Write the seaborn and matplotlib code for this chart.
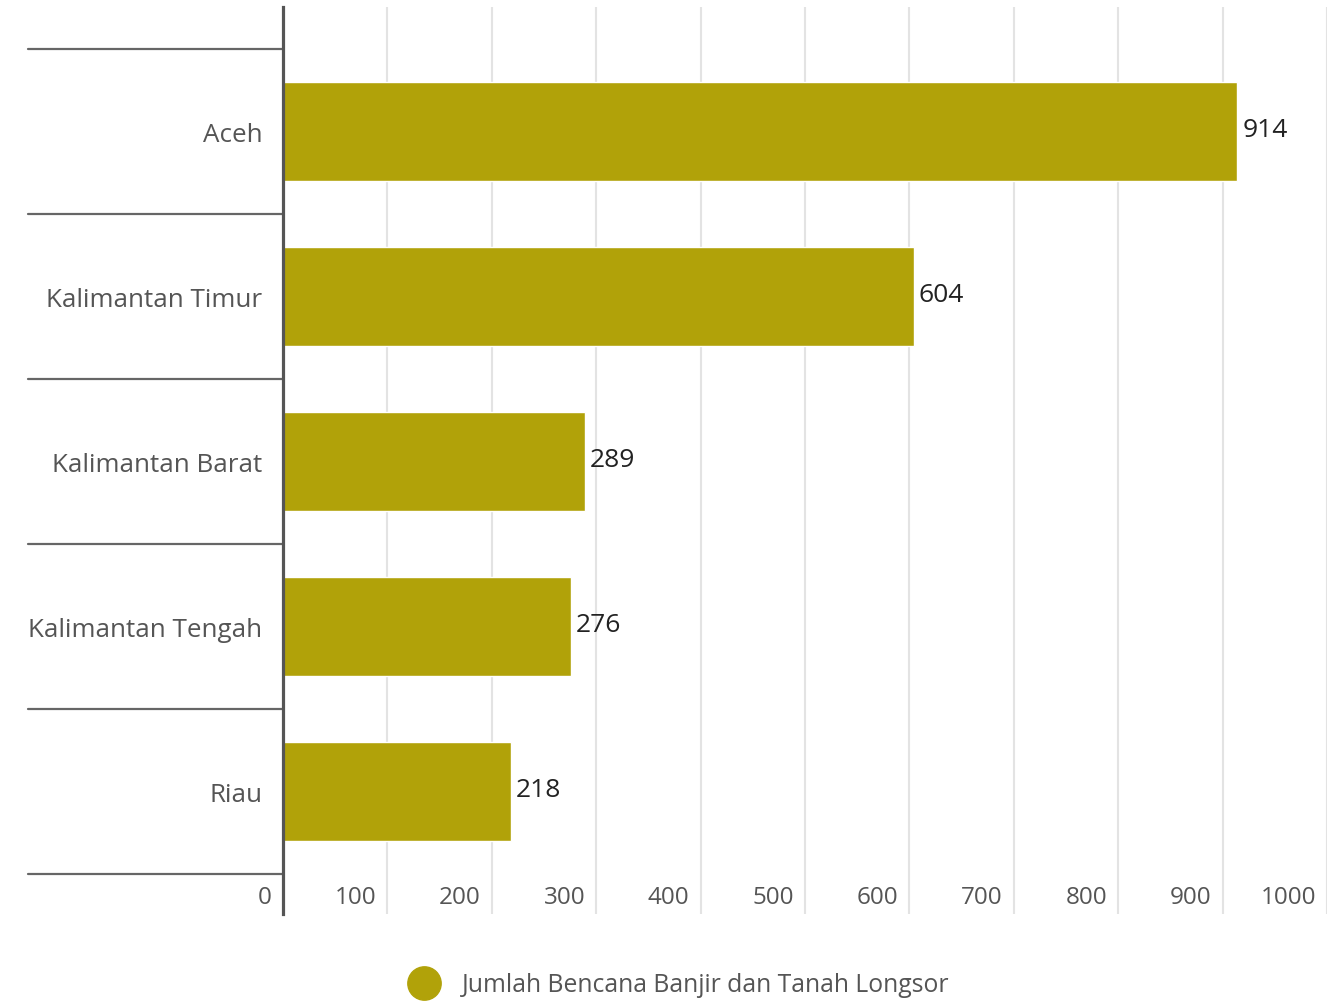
import matplotlib
matplotlib.use("Agg")
import matplotlib.pyplot as plt
import matplotlib.transforms as mtransforms
from matplotlib.lines import Line2D
import seaborn as sns
import pandas as pd

categories = ["Aceh", "Kalimantan Timur", "Kalimantan Barat", "Kalimantan Tengah", "Riau"]
values = [914, 604, 289, 276, 218]
x_ticks = [0, 100, 200, 300, 400, 500, 600, 700, 800, 900, 1000]
series_name = "Jumlah Bencana Banjir dan Tanah Longsor"

BAR = "#b1a209"
TXT = "#555555"

sns.set_theme(style="white")
plt.rcParams["font.family"] = ["Open Sans", "DejaVu Sans"]

df = pd.DataFrame({"Provinsi": categories, "Jumlah": values})

fig = plt.figure(figsize=(13.27, 10.03), dpi=100)
ax = fig.add_axes([283/1327, 1 - 915/1003, 1044/1327, 907/1003])

sns.barplot(data=df, y="Provinsi", x="Jumlah", orient="h", color=BAR,
            width=0.6, saturation=1, ax=ax, zorder=3)

ax.set_xlim(0, 1000)
ax.set_ylim(4.5 + 40/165, -0.5 - 42/165)
ax.set_xlabel("")
ax.set_ylabel("")

# gridlines
for t in x_ticks[1:]:
    ax.axvline(t, color="#e3e3e3", lw=1.5, zorder=1)

for s in ["top", "right", "bottom"]:
    ax.spines[s].set_visible(False)
ax.spines["left"].set_color("#555555")
ax.spines["left"].set_linewidth(2.3)
ax.spines["left"].set_zorder(5)

# x tick labels inside axes bottom, to the left of each gridline
ax.set_xticks([])
blend = mtransforms.blended_transform_factory(ax.transData, ax.transAxes)
for t in x_ticks:
    off = mtransforms.offset_copy(blend, fig=fig, x=-11, y=0, units="dots")
    ax.text(t, 17/907, str(t), transform=off, ha="right", va="center",
            fontsize=17.5, color=TXT)

# y tick labels
ax.tick_params(axis="y", length=0, pad=15, labelsize=18.7, labelcolor=TXT)

# category separator lines on the left
blend_y = mtransforms.blended_transform_factory(ax.transAxes, ax.transData)
for b in [i - 0.5 for i in range(len(categories) + 1)]:
    ax.add_line(Line2D([-255/1044, 0], [b, b], transform=blend_y, color="#666666",
                       lw=1.6, clip_on=False, zorder=4))

# value labels
for i, v in enumerate(values):
    ax.annotate(str(v), xy=(v, i), xytext=(5, 2), textcoords="offset pixels",
                ha="left", va="center", fontsize=19, color="#222222", zorder=6)

handle = Line2D([], [], marker="o", linestyle="", color=BAR, markersize=24)
fig.legend([handle], [series_name], loc="center", bbox_to_anchor=(0.508, 0.017),
           frameon=False, fontsize=17.8, labelcolor=TXT, handletextpad=0.55,
           borderaxespad=0)

fig.savefig("out.png", dpi=100)
